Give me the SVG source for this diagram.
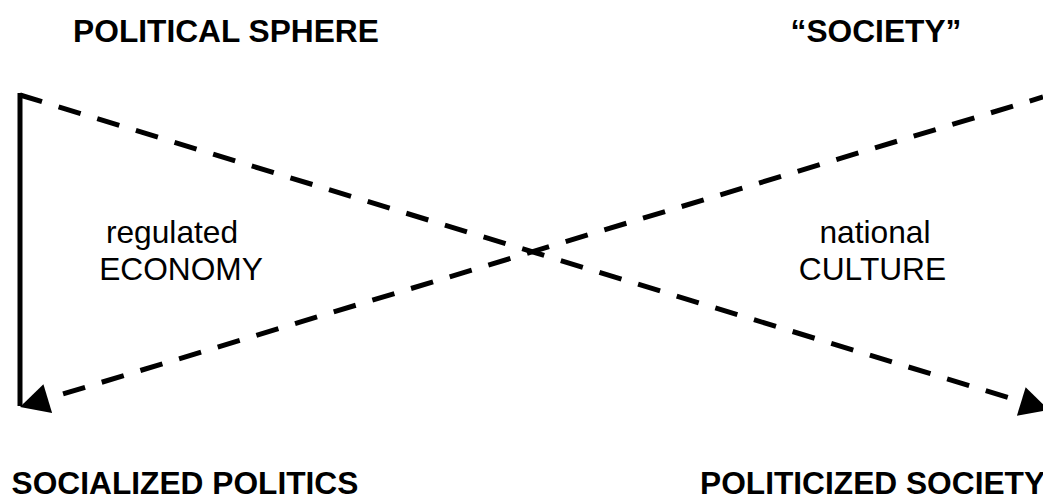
<svg xmlns="http://www.w3.org/2000/svg" width="1043" height="495" viewBox="0 0 1043 495">
  <style>
    .title { font-family: "Liberation Sans", Arial, sans-serif; font-size: 31.7px; font-weight: bold; fill: #000; }
    .label { font-family: "Liberation Sans", Arial, sans-serif; font-size: 31.7px; fill: #000; text-anchor: middle; }
    .solid { stroke: #000; stroke-width: 5; fill: none; }
    .dash { stroke: #000; stroke-width: 5; fill: none; stroke-dasharray: 23 17.4; }
  </style>
  <defs>
    <marker id="arrow" viewBox="-30 -16 32 32" refX="0" refY="0" markerWidth="32" markerHeight="32" markerUnits="userSpaceOnUse" orient="auto-start-reverse">
      <path d="M0,0 L-29,-15 L-29,15 Z" fill="#000"/>
    </marker>
  </defs>
  <rect width="1043" height="495" fill="#fff"/>

  <g id="connectors">
    <path class="solid" d="M20,93 V406"/>
    <path class="dash" d="M20,95 L1049,410" marker-end="url(#arrow)"/>
    <path class="dash" style="stroke-dashoffset:35.8" d="M20,407 L1043,97" marker-start="url(#arrow)"/>
  </g>

  <g id="political-sphere">
    <text class="title" x="226" y="42" text-anchor="middle">POLITICAL SPHERE</text>
  </g>
  <g id="society">
    <text class="title" x="876" y="42" text-anchor="middle">“SOCIETY”</text>
  </g>
  <g id="regulated-economy">
    <text class="label" x="172" y="243">regulated</text>
    <text class="label" x="181" y="280">ECONOMY</text>
  </g>
  <g id="national-culture">
    <text class="label" x="875" y="243">national</text>
    <text class="label" x="872.5" y="280">CULTURE</text>
  </g>
  <g id="socialized-politics">
    <text class="title" x="185" y="494" text-anchor="middle">SOCIALIZED POLITICS</text>
  </g>
  <g id="politicized-society">
    <text class="title" x="700" y="494">POLITICIZED SOCIETY</text>
  </g>
</svg>
